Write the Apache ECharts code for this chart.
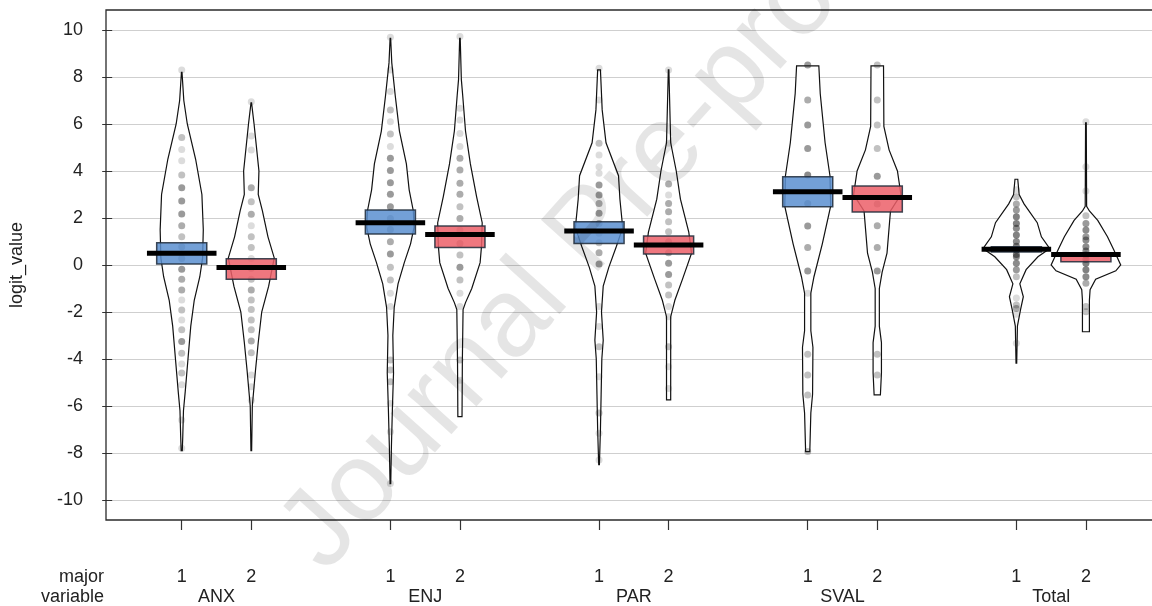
<!DOCTYPE html>
<html>
<head>
<meta charset="utf-8">
<script src="https://cdn.jsdelivr.net/npm/echarts@6/dist/echarts.min.js"></script>
<style>
  html, body { margin: 0; padding: 0; background: #fff; }
  #chart { width: 1152px; height: 606px; }
</style>
</head>
<body>
<div id="chart"></div>
<script>
// groups on the x axis
var categories = ['ANX', 'ENJ', 'PAR', 'SVAL', 'Total'];
var majors = ['1', '2'];

// one entry per bean, order: ANX1, ANX2, ENJ1, ENJ2, ... Total2
var means = [0.5, -0.11, 1.8, 1.3, 1.45, 0.85, 3.12, 2.87, 0.67, 0.45];
var bandLow = [0.04, -0.61, 1.32, 0.75, 0.92, 0.47, 2.48, 2.26, 0.55, 0.14];
var bandHigh = [0.95, 0.27, 2.34, 1.66, 1.84, 1.23, 3.76, 3.36, 0.78, 0.42];

// bean outlines: [value, half width in x units], top to bottom
var beanShapes = [
  [[8.2,0.004],[7.0,0.03],[6.0,0.08],[4.5,0.2],[3.0,0.29],[1.5,0.31],[0.3,0.3],[-0.5,0.26],[-1.5,0.18],[-2.6,0.13],[-4.0,0.09],[-5.4,0.05],[-6.2,0.025],[-7.3,0.015],[-7.9,0.008]],
  [[6.9,0.004],[6.0,0.04],[4.0,0.11],[3.0,0.1],[2.3,0.16],[1.2,0.24],[0.3,0.33],[-0.9,0.25],[-2.0,0.15],[-3.3,0.1],[-4.5,0.06],[-6.0,0.015],[-7.9,0.005]],
  [[9.65,0.004],[8.6,0.02],[7.2,0.07],[5.7,0.13],[4.3,0.23],[3.2,0.27],[2.3,0.33],[1.6,0.34],[0.9,0.29],[0.1,0.2],[-0.8,0.11],[-1.8,0.055],[-3.0,0.035],[-4.6,0.045],[-6.0,0.03],[-7.7,0.015],[-9.3,0.005]],
  [[9.65,0.004],[7.9,0.02],[7.2,0.04],[5.7,0.08],[4.3,0.15],[2.9,0.24],[1.8,0.32],[0.8,0.31],[0.1,0.29],[-1.0,0.17],[-1.6,0.08],[-1.9,0.045],[-4.0,0.035],[-6.45,0.03]],
  [[8.3,0.02],[6.6,0.045],[5.2,0.1],[3.8,0.28],[2.8,0.3],[1.6,0.34],[0.8,0.25],[-0.1,0.14],[-0.9,0.06],[-2.0,0.035],[-3.2,0.06],[-4.0,0.04],[-5.5,0.03],[-7.0,0.02],[-8.5,0.005]],
  [[8.3,0.004],[5.2,0.03],[4.0,0.11],[2.8,0.17],[1.4,0.29],[0.5,0.33],[-0.6,0.2],[-1.5,0.09],[-2.2,0.03],[-5.74,0.03]],
  [[8.47,0.16],[7.3,0.18],[5.2,0.25],[3.8,0.32],[2.5,0.33],[0.9,0.21],[-0.5,0.09],[-1.2,0.045],[-2.8,0.045],[-3.5,0.075],[-5.5,0.07],[-6.3,0.045],[-7.94,0.03]],
  [[8.47,0.09],[5.9,0.095],[4.9,0.17],[4.0,0.29],[3.0,0.34],[2.3,0.19],[0.5,0.14],[-0.3,0.07],[-1.0,0.03],[-2.6,0.03],[-3.3,0.06],[-4.6,0.06],[-5.53,0.045]],
  [[3.65,0.02],[3.0,0.04],[2.6,0.11],[1.8,0.3],[1.2,0.36],[0.7,0.48],[0.35,0.31],[-0.2,0.14],[-0.8,0.05],[-1.35,0.1],[-1.9,0.06],[-2.6,0.015],[-4.18,0.005]],
  [[6.05,0.005],[2.5,0.01],[2.3,0.05],[1.9,0.17],[1.2,0.31],[0.65,0.4],[0.0,0.5],[-0.25,0.43],[-0.6,0.14],[-1.05,0.06],[-1.5,0.05],[-2.84,0.05]]
];

// raw points: [value, how many respondents share it]
var beanPoints = [
  [[8.3,1],[5.43,2],[4.92,1],[4.44,1],[3.83,2],[3.29,4],[2.72,4],[2.17,4],[1.67,3],[1.2,2],[0.78,3],[0.28,3],[-0.18,4],[-0.61,3],[-1.06,3],[-1.49,1],[-1.91,2],[-2.34,1],[-2.76,2],[-3.26,4],[-3.76,2],[-4.21,1],[-4.6,2],[-5.1,1],[-6.6,1],[-7.8,1]],
  [[6.95,1],[5.49,1],[4.89,1],[3.29,3],[2.69,2],[2.16,3],[1.67,1],[1.2,2],[0.75,2],[0.28,1],[-0.14,3],[-0.61,2],[-1.06,3],[-1.49,2],[-1.89,2],[-2.34,2],[-2.76,2],[-3.23,3],[-3.73,2],[-4.68,1],[-5.18,1],[-5.75,1]],
  [[9.69,1],[8.3,1],[7.38,1],[6.6,2],[6.1,1],[5.57,2],[5.04,1],[4.54,4],[4.02,4],[3.5,4],[3.01,4],[2.48,4],[1.98,3],[1.51,3],[0.99,3],[0.47,4],[-0.1,2],[-0.64,2],[-1.2,1],[-1.77,1],[-4.04,2],[-4.47,2],[-4.97,2],[-5.89,1],[-7.1,1],[-9.3,1]],
  [[9.72,1],[6.67,1],[6.17,1],[5.6,1],[5.04,1],[4.54,3],[4.04,3],[3.48,3],[3.01,3],[2.48,2],[1.98,3],[1.49,2],[0.92,3],[0.43,2],[-0.1,4],[-0.64,2],[-1.2,1],[-1.77,1],[-4.04,2],[-4.9,1]],
  [[8.37,1],[7.02,1],[5.18,2],[4.68,1],[4.18,1],[3.9,1],[3.4,4],[2.98,4],[2.62,3],[2.2,4],[1.77,3],[1.35,2],[0.95,2],[0.52,3],[0.04,4],[-1.77,1],[-2.62,1],[-3.48,2],[-4.75,1],[-6.3,2],[-7.16,1],[-8.3,1]],
  [[8.3,1],[5.18,1],[3.45,3],[2.98,1],[2.62,3],[2.27,3],[1.84,2],[1.42,2],[0.99,3],[0.52,3],[0.07,4],[-0.4,4],[-0.85,2],[-1.28,2],[-1.77,1],[-2.2,1],[-3.48,2],[-4.33,1],[-5.25,1]],
  [[8.51,4],[7.02,3],[5.96,4],[4.96,4],[3.83,5],[2.62,4],[1.66,4],[0.75,3],[-0.26,4],[-1.2,1],[-3.8,2],[-4.68,2],[-5.53,2],[-7.94,2]],
  [[8.51,2],[7.02,2],[5.96,2],[4.96,2],[3.78,4],[2.6,3],[1.67,3],[0.74,3],[-0.26,4],[-3.8,2],[-4.68,2]],
  [[3.2,1],[2.9,2],[2.6,3],[2.34,4],[2.05,6],[1.77,6],[1.56,5],[1.28,6],[1.0,5],[0.8,6],[0.64,8],[0.45,6],[0.35,5],[0.07,5],[-0.2,4],[-0.5,2],[-1.4,1],[-1.7,2],[-1.85,3],[-2.1,1],[-3.33,1]],
  [[6.1,1],[4.18,1],[3.15,1],[2.1,2],[1.77,4],[1.49,5],[1.2,4],[1.06,5],[0.78,5],[0.6,5],[0.43,6],[0.25,5],[0.07,6],[-0.2,6],[-0.5,5],[-0.78,3],[-1.77,2],[-1.99,2]]
];

var bandColors = ['#5b8fd0', '#ec5f69'];

// bean centres: majors side by side, one empty slot between variables
var positions = [];
var groupOf = [];
categories.forEach(function (c, g) {
  majors.forEach(function (m, k) {
    positions.push(g * (majors.length + 1) + k + 1);
    groupOf.push(k);
  });
});
var majorLabel = {};
var varLabel = {};
categories.forEach(function (c, g) {
  majors.forEach(function (m, k) { majorLabel[positions[g * 2 + k]] = m; });
  varLabel[(positions[g * 2] + positions[g * 2 + 1]) / 2] = c;
});

var beanData = positions.map(function (p, i) { return [p, means[i]]; });
var pointData = [];
beanPoints.forEach(function (pts, i) {
  pts.forEach(function (d) { pointData.push([positions[i], d[0], d[1]]); });
});

var font = "'Liberation Sans', Arial, sans-serif";
var chart = echarts.init(document.getElementById('chart'));

chart.setOption({
  animation: false,
  grid: { left: 106, right: 0, top: 30, bottom: 106 },
  xAxis: [{
    type: 'value', min: -0.06, max: 14.95, offset: 20,
    axisLine: { show: true, onZero: false, lineStyle: { color: 'rgba(0,0,0,0)' } },
    splitLine: { show: false },
    axisTick: { show: true, length: 10, customValues: Object.keys(majorLabel).map(Number), lineStyle: { color: '#333', width: 1.2 } },
    axisLabel: {
      customValues: Object.keys(majorLabel).map(Number),
      formatter: function (v) { return majorLabel[v] || ''; },
      margin: 48, fontSize: 18, color: '#222', fontFamily: font
    }
  }, {
    type: 'value', min: -0.06, max: 14.95, position: 'bottom', offset: 20,
    axisLine: { show: false, onZero: false },
    splitLine: { show: false },
    axisTick: { show: false },
    axisLabel: {
      customValues: Object.keys(varLabel).map(Number),
      formatter: function (v) { return varLabel[v] || ''; },
      margin: 68, fontSize: 18, color: '#222', fontFamily: font
    }
  }],
  yAxis: {
    type: 'value', min: -10, max: 10, interval: 2,
    name: 'logit_value', nameLocation: 'middle', nameGap: 82,
    nameTextStyle: { fontSize: 18, color: '#222', fontFamily: font },
    axisLine: { show: false },
    axisTick: { show: true, length: 10, lineStyle: { color: '#333' } },
    axisLabel: { margin: 25, fontSize: 18, color: '#222', fontFamily: font },
    splitLine: { lineStyle: { color: '#cfcfcf', width: 1.2 } }
  },
  graphic: [
    { type: 'rect', z: 100, silent: true, shape: { x: 106, y: 10, width: 1060, height: 510 },
      style: { fill: 'none', stroke: '#2a2a2a', lineWidth: 1.3 } },
    { type: 'text', x: 104, y: 577, style: { text: 'major', font: '18px ' + font, fill: '#222', textAlign: 'right', textVerticalAlign: 'middle' } },
    { type: 'text', x: 104, y: 597, style: { text: 'variable', font: '18px ' + font, fill: '#222', textAlign: 'right', textVerticalAlign: 'middle' } },
    { type: 'text', x: 592, y: 232, rotation: 48 * Math.PI / 180, z: 200, silent: true,
      style: { text: 'Journal Pre-proof', font: '112px ' + font, fill: 'rgba(0,0,0,0.1)',
        textAlign: 'center', textVerticalAlign: 'middle' } }
  ],
  series: [{
    type: 'custom', z: 2, data: beanData,
    renderItem: function (params, api) {
      var i = params.dataIndex, x = positions[i], shape = beanShapes[i];
      var right = shape.map(function (d) { return api.coord([x + d[1], d[0]]); });
      var left = shape.slice().reverse().map(function (d) { return api.coord([x - d[1], d[0]]); });
      return { type: 'polygon', shape: { points: right.concat(left) },
        style: { fill: '#fff', stroke: '#111', lineWidth: 1.2 } };
    }
  }, {
    type: 'scatter', z: 3, data: pointData, symbolSize: 7,
    itemStyle: {
      color: function (p) {
        var a = 1 - Math.pow(0.8, p.data[2]);
        return 'rgba(40,40,40,' + a.toFixed(3) + ')';
      }
    }
  }, {
    type: 'custom', z: 4, data: beanData,
    renderItem: function (params, api) {
      var i = params.dataIndex, x = positions[i];
      var p1 = api.coord([x - 0.36, bandHigh[i]]);
      var p2 = api.coord([x + 0.36, bandLow[i]]);
      return { type: 'rect', shape: { x: p1[0], y: p1[1], width: p2[0] - p1[0], height: p2[1] - p1[1] },
        style: { fill: bandColors[groupOf[i]], opacity: 0.85, stroke: '#1e2a3a', lineWidth: 1.5 } };
    }
  }, {
    type: 'custom', z: 5, data: beanData,
    renderItem: function (params, api) {
      var i = params.dataIndex, x = positions[i];
      var a = api.coord([x - 0.5, means[i]]);
      var b = api.coord([x + 0.5, means[i]]);
      return { type: 'line', shape: { x1: a[0], y1: a[1], x2: b[0], y2: b[1] },
        style: { stroke: '#000', lineWidth: 5 } };
    }
  }]
});
</script>
</body>
</html>
